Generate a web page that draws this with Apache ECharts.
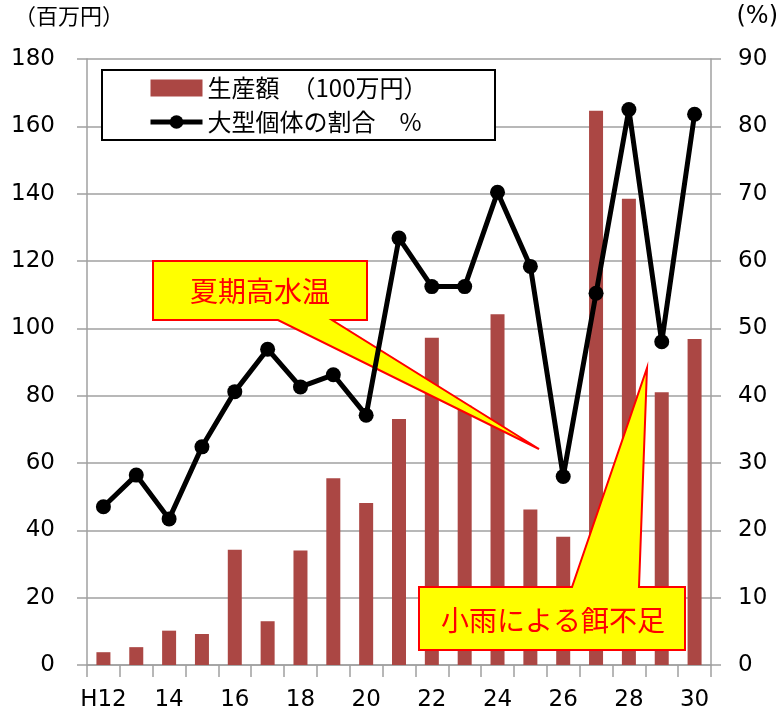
<!DOCTYPE html>
<html>
<head>
<meta charset="utf-8">
<script src="https://cdn.jsdelivr.net/npm/echarts@6/dist/echarts.min.js"></script>
<style>
  html, body { margin: 0; padding: 0; background: #fff; }
  #chart { width: 779px; height: 715px; }
</style>
</head>
<body>
<div id="chart"></div>
<script>
// Fiscal years (Heisei)
const years = ['H12','13','14','15','16','17','18','19','20','21','22','23','24','25','26','27','28','29','30'];
// Production value (million yen)
const production = [3.8, 5.3, 10.2, 9.2, 34.2, 13.0, 34.0, 55.5, 48.1, 73.1, 97.2, 77, 104.2, 46.2, 38.1, 164.6, 138.5, 81.0, 96.8];
// Share of large individuals (%)
const largeShare = [23.5, 28.2, 21.7, 32.4, 40.6, 46.9, 41.3, 43.1, 37.1, 63.4, 56.2, 56.2, 70.2, 59.2, 28.0, 55.2, 82.5, 48.0, 81.8];

const leftRange = [0, 180, 20];
const rightRange = [0, 90, 10];

const seriesNames = ['生産額　（100万円）', '大型個体の割合　%'];
const leftUnit = '（百万円）';
const rightUnit = '(%)';
const noteHeat = '夏期高水温';
const noteRain = '小雨による餌不足';

const NUM_FONT = "'DejaVu Sans', 'Noto Sans CJK JP', sans-serif";
const JP_FONT = "'Noto Sans CJK JP', 'DejaVu Sans', sans-serif";
const GRID_COLOR = '#a0a0a0';

const chart = echarts.init(document.getElementById('chart'), null, { renderer: 'canvas' });

const valueAxisCommon = {
  type: 'value',
  axisLine: { show: true, lineStyle: { color: GRID_COLOR, width: 1.5 } },
  axisTick: { show: true, length: 10, lineStyle: { color: GRID_COLOR, width: 1.5 } },
  splitLine: { show: true, lineStyle: { color: GRID_COLOR, width: 1.5 } },
};

const calloutStyle = { fill: '#ffff00', stroke: '#ff0000', lineWidth: 2 };

chart.setOption({
  animation: false,
  backgroundColor: '#ffffff',
  grid: { left: 87, right: 68, top: 59, bottom: 50, containLabel: false },
  legend: {
    orient: 'vertical',
    left: 148,
    top: 75,
    padding: 0,
    itemGap: 8,
    itemWidth: 52,
    itemHeight: 17,
    z: 20,
    textStyle: { fontFamily: JP_FONT, fontSize: 24, color: '#000', lineHeight: 26 },
    data: [
      { name: seriesNames[0], icon: 'rect' },
      { name: seriesNames[1], lineStyle: { width: 5, color: '#000' } }
    ]
  },
  xAxis: {
    type: 'category',
    data: years,
    boundaryGap: true,
    axisLine: { show: true, lineStyle: { color: GRID_COLOR, width: 1.5 } },
    axisTick: { show: true, interval: 0, length: 12, lineStyle: { color: GRID_COLOR, width: 1.5 } },
    axisLabel: { interval: 1, margin: 24, fontFamily: NUM_FONT, fontSize: 23, color: '#000' }
  },
  yAxis: [
    Object.assign({}, valueAxisCommon, {
      min: leftRange[0], max: leftRange[1], interval: leftRange[2],
      position: 'left',
      axisLabel: { margin: 32, fontFamily: NUM_FONT, fontSize: 23, color: '#000' }
    }),
    Object.assign({}, valueAxisCommon, {
      min: rightRange[0], max: rightRange[1], interval: rightRange[2],
      position: 'right',
      splitLine: { show: false },
      axisLabel: { margin: 27, fontFamily: NUM_FONT, fontSize: 23, color: '#000' }
    })
  ],
  series: [
    {
      name: seriesNames[0],
      type: 'bar',
      yAxisIndex: 0,
      data: production,
      barWidth: 14,
      z: 1,
      itemStyle: { color: '#ab4744' }
    },
    {
      name: seriesNames[1],
      type: 'line',
      yAxisIndex: 1,
      data: largeShare,
      z: 5,
      symbol: 'circle',
      symbolSize: 15,
      lineStyle: { color: '#000', width: 5 },
      itemStyle: { color: '#000' }
    }
  ],
  graphic: [
    // legend frame
    {
      type: 'rect', z: 15,
      shape: { x: 102, y: 70, width: 393, height: 70 },
      style: { fill: '#fff', stroke: '#000', lineWidth: 2 }
    },
    // axis unit captions
    {
      type: 'text', z: 15, left: 14, top: 5,
      style: { text: leftUnit, fontFamily: JP_FONT, fontSize: 22, fill: '#000' }
    },
    {
      type: 'text', z: 15, right: 1, top: 5,
      style: { text: rightUnit, fontFamily: NUM_FONT, fontSize: 24, fill: '#000' }
    },
    // callout: summer high water temperature
    {
      type: 'polygon', z: 3,
      shape: { points: [[153, 261], [367, 261], [367, 320], [332, 320], [539, 449], [278, 320], [153, 320]] },
      style: calloutStyle
    },
    {
      type: 'text', z: 3, x: 260, y: 291,
      style: { text: noteHeat, fontFamily: JP_FONT, fontSize: 28, fill: '#ff0000', align: 'center', verticalAlign: 'middle' }
    },
    // callout: food shortage from light rainfall
    {
      type: 'polygon', z: 3,
      shape: { points: [[419, 587], [572, 587], [647, 368], [639, 587], [685, 587], [685, 650], [419, 650]] },
      style: calloutStyle
    },
    {
      type: 'text', z: 3, x: 553, y: 620,
      style: { text: noteRain, fontFamily: JP_FONT, fontSize: 28, fill: '#ff0000', align: 'center', verticalAlign: 'middle' }
    }
  ]
});
</script>
</body>
</html>
